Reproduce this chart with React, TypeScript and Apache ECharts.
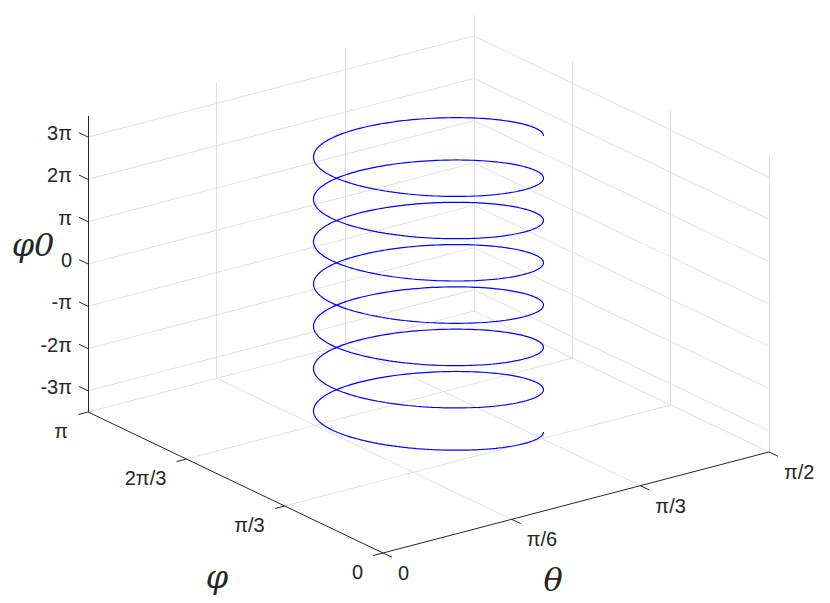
import React, { useEffect, useRef } from "react";
import * as echarts from "echarts";

// ---- data (angles in units of π) ----
const zTicks = [-3, -2, -1, 0, 1, 2, 3];
const zTickLabels = ["-3π", "-2π", "-π", "0", "π", "2π", "3π"];
const thetaTicks = [0, 1 / 6, 1 / 3, 1 / 2];
const thetaTickLabels = ["0", "π/6", "π/3", "π/2"];
const phiTicks = [0, 1 / 3, 2 / 3, 1];
const phiTickLabels = ["0", "π/3", "2π/3", "π"];
const thetaRange = [0, 0.5];
const phiRange = [0, 1];
const zRange = [-3.5, 3.5];

// helix: centre (θ, φ), cos / sin coefficients (θ, φ), turns, φ0 range
const helixCenter = [0.25, 0.5];
const helixCosCoef = [0.0963, -0.1378];
const helixSinCoef = [-0.049, -0.1283];
const helixTurns = [7];
const helixZRange = [-3.5, 3.5];

// ---- view (layout only) ----
const VIEW = {
  ox: 383,
  oy: 553,
  thX: 772,
  thY: -202,
  phX: -295,
  phY: -141,
  zY: -42.3,
};

function project(th: number, ph: number, z: number): [number, number] {
  const x = VIEW.ox + VIEW.thX * th + VIEW.phX * ph;
  const y = VIEW.oy + VIEW.thY * th + VIEW.phY * ph + VIEW.zY * (z - zRange[0]);
  return [x, y];
}

function seg(a: [number, number], b: [number, number]) {
  return { coords: [a, b] };
}

export default function App() {
  const ref = useRef<HTMLDivElement>(null);
  useEffect(() => {
    if (!ref.current) return;
    const chart = echarts.init(ref.current, null, { renderer: "svg" });
    const [t0, t1] = thetaRange;
    const [p0, p1] = phiRange;
    const [z0, z1] = zRange;

    // grid lines
    const grid: any[] = [];
    // left wall (φ = max)
    zTicks.forEach((z) => grid.push(seg(project(t0, p1, z), project(t1, p1, z))));
    thetaTicks.forEach((t) => {
      if (t > t0) grid.push(seg(project(t, p1, z0), project(t, p1, z1)));
    });
    // right wall (θ = max)
    zTicks.forEach((z) => grid.push(seg(project(t1, p1, z), project(t1, p0, z))));
    phiTicks.forEach((p) => {
      if (p < p1) grid.push(seg(project(t1, p, z0), project(t1, p, z1)));
    });
    // floor
    thetaTicks.forEach((t) => {
      if (t > t0) grid.push(seg(project(t, p0, z0), project(t, p1, z0)));
    });
    phiTicks.forEach((p) => {
      if (p > p0) grid.push(seg(project(t0, p, z0), project(t1, p, z0)));
    });

    // axes & ticks
    const axes: any[] = [];
    axes.push(seg(project(t0, p1, z0), project(t0, p1, z1))); // z axis
    axes.push(seg(project(t0, p0, z0), project(t0, p1, z0))); // φ axis
    axes.push(seg(project(t0, p0, z0), project(t1, p0, z0))); // θ axis
    const unit = (dx: number, dy: number) => {
      const l = Math.hypot(dx, dy);
      return [dx / l, dy / l];
    };
    const uDir = unit(VIEW.thX, VIEW.thY);
    const vDir = unit(VIEW.phX, VIEW.phY);
    const TL = 10;
    zTicks.forEach((z) => {
      const a = project(t0, p1, z);
      axes.push(seg(a, [a[0] + vDir[0] * TL, a[1] + vDir[1] * TL]));
    });
    phiTicks.forEach((p) => {
      const a = project(t0, p, z0);
      axes.push(seg(a, [a[0] - uDir[0] * TL, a[1] - uDir[1] * TL]));
    });
    thetaTicks.forEach((t) => {
      const a = project(t, p0, z0);
      axes.push(seg(a, [a[0] - vDir[0] * TL, a[1] - vDir[1] * TL]));
    });

    // helix
    const helix: number[][] = [];
    const turns = helixTurns[0];
    const N = turns * 180;
    for (let i = 0; i <= N; i++) {
      const s = (i / N) * turns * 2 * Math.PI;
      const th = helixCenter[0] + helixCosCoef[0] * Math.cos(s) + helixSinCoef[0] * Math.sin(s);
      const ph = helixCenter[1] + helixCosCoef[1] * Math.cos(s) + helixSinCoef[1] * Math.sin(s);
      const z = helixZRange[0] + (i / N) * (helixZRange[1] - helixZRange[0]);
      helix.push(project(th, ph, z));
    }

    // labels
    type Lab = { x: number; y: number; text: string; align: string; size: number; family: string; italic?: boolean };
    const labels: Lab[] = [];
    const tickFont = "'Liberation Sans', Arial, sans-serif";
    zTicks.forEach((z, i) => {
      const a = project(t0, p1, z);
      labels.push({ x: a[0] - 16, y: a[1] - 4, text: zTickLabels[i], align: "right", size: 20, family: tickFont });
    });
    phiTicks.forEach((p, i) => {
      const a = project(t0, p, z0);
      labels.push({ x: a[0] - 20, y: a[1] + 19, text: phiTickLabels[i], align: "right", size: 20, family: tickFont });
    });
    thetaTicks.forEach((t, i) => {
      const a = project(t, p0, z0);
      labels.push({ x: a[0] + 15, y: a[1] + 20, text: thetaTickLabels[i], align: "left", size: 20, family: tickFont });
    });
    const serif = "'DejaVu Serif', 'Liberation Serif', serif";
    labels.push({ x: 33, y: 245, text: "φ0", align: "center", size: 32, family: serif, italic: true });
    labels.push({ x: 217, y: 577, text: "φ", align: "center", size: 32, family: serif, italic: true });
    labels.push({ x: 553, y: 580, text: "θ", align: "center", size: 32, family: serif, italic: true });

    chart.setOption({
      animation: false,
      backgroundColor: "#ffffff",
      grid: { left: 0, right: 0, top: 0, bottom: 0 },
      xAxis: { type: "value", min: 0, max: 830, show: false },
      yAxis: { type: "value", min: 0, max: 603, inverse: true, show: false },
      series: [
        {
          type: "lines",
          coordinateSystem: "cartesian2d",
          silent: true,
          lineStyle: { color: "#e0e0e0", width: 1, opacity: 1 },
          data: grid,
          z: 1,
        },
        {
          type: "lines",
          coordinateSystem: "cartesian2d",
          silent: true,
          lineStyle: { color: "#262626", width: 1, opacity: 1 },
          data: axes,
          z: 2,
        },
        {
          type: "line",
          data: helix,
          showSymbol: false,
          symbol: "none",
          silent: true,
          lineStyle: { color: "#0000ff", width: 1.2 },
          z: 3,
        },
        {
          type: "custom",
          silent: true,
          data: labels.map((l, i) => [l.x, l.y, i]),
          renderItem: (params: any, api: any) => {
            const l = labels[params.dataIndex];
            const p = api.coord([l.x, l.y]);
            return {
              type: "text",
              x: p[0],
              y: p[1],
              style: {
                text: l.text,
                fill: "#262626",
                fontSize: l.size,
                fontFamily: l.family,
                fontStyle: l.italic ? "italic" : "normal",
                align: l.align,
                verticalAlign: "middle",
              },
            };
          },
          z: 4,
        },
      ],
    });
    return () => chart.dispose();
  }, []);
  return (
    <div
      ref={ref}
      style={{ position: "fixed", left: 0, top: 0, width: 830, height: 603, background: "#fff" }}
    />
  );
}
